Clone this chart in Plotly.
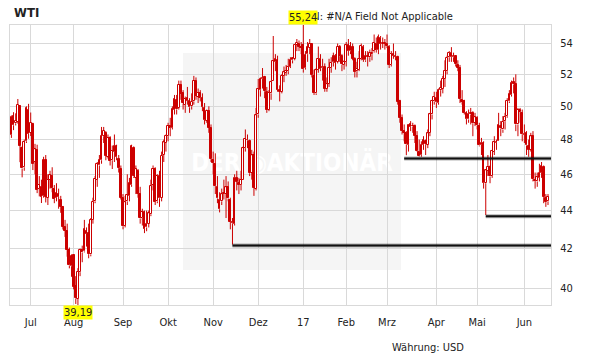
import math
import pandas as pd
import plotly.graph_objects as go

# ---------------- data ----------------
start_date = "2016-06-20"
end_date = "2017-06-16"
holidays = ["2016-07-04", "2016-09-05", "2016-11-24", "2016-12-26", "2017-01-02",
            "2017-01-16", "2017-02-20", "2017-04-14", "2017-05-29"]

month_labels = ["Jul", "Aug", "Sep", "Okt", "Nov", "Dez", "17", "Feb", "Mrz", "Apr", "Mai", "Jun"]
y_ticks = [40, 42, 44, 46, 48, 50, 52, 54]

opens = [
    48.28, 49.39, 48.97, 49.05, 50.00, 47.50, 46.40, 47.90, 49.80,
    48.40, 48.90, 46.70, 47.40, 45.20, 45.30, 44.80, 46.80, 44.70, 45.70, 45.90, 45.20, 44.70, 44.90, 44.60, 44.20, 43.10, 42.90, 41.90, 41.10,
    41.65, 40.10, 39.50, 40.80, 41.90, 41.85, 42.90, 42.80, 41.70, 43.50, 44.50, 45.70, 46.50, 46.80, 48.20, 48.40, 47.00, 48.10, 46.80, 47.30, 47.60, 46.90, 46.30,
    44.70, 43.20, 44.50, 44.80, 45.40, 47.50, 45.80, 46.20, 44.90, 43.60, 43.90, 43.10, 43.30, 43.80, 45.40, 46.30, 44.50, 45.90, 44.70, 47.10, 47.80,
    48.20, 48.80, 48.70, 49.80, 50.40, 49.90, 51.30, 50.80, 50.10, 50.50, 50.30, 50.00, 50.30, 51.60, 50.60, 50.80, 50.50, 49.90, 49.10, 49.70, 48.70,
    46.80, 46.60, 45.30, 44.60, 44.50, 44.90, 44.90, 45.30, 44.60, 43.40, 43.30, 45.80, 45.50, 45.40, 45.70, 47.50, 48.00, 47.90, 46.10, 47.10, 45.20,
    49.50, 51.00, 51.70, 51.80, 50.90, 49.80, 50.80, 51.60, 52.80, 52.90, 51.00, 50.90, 51.90, 52.10, 52.20, 52.50, 52.90, 53.00, 53.90, 54.00, 53.80,
    53.90, 52.40, 53.30, 53.70, 54.00, 51.90, 50.80, 52.30, 53.00, 52.40, 52.50, 51.10, 51.40, 52.40, 52.80, 53.20, 52.80, 53.80, 53.20, 52.60,
    52.80, 53.90, 53.50, 53.80, 53.00, 52.20, 52.30, 53.00, 53.80, 52.90, 53.20, 53.10, 53.30, 53.50, 54.00, 53.60, 54.40, 54.00, 54.00,
    54.00, 53.80, 52.60, 53.30, 53.20, 53.10, 50.30, 49.30, 48.50, 48.40, 47.70, 48.90, 48.80, 48.80, 48.20, 47.30, 47.10, 47.70, 47.90, 47.70, 48.40, 49.50, 50.30,
    50.50, 50.20, 51.00, 51.10, 51.70, 52.20, 53.10, 53.40, 53.10, 53.20, 52.60, 52.40, 50.40, 50.30, 49.60, 49.20, 49.50, 49.60, 49.00,
    49.30, 48.80, 47.70, 47.80, 45.50, 46.20, 46.40, 45.90, 47.30, 47.80, 47.90, 48.80, 48.60, 49.10, 49.40, 50.30, 50.70, 51.50, 51.40, 48.90, 49.80, 49.60,
    48.30, 48.40, 47.60, 47.40, 48.20, 45.70, 45.60, 45.80, 46.10, 46.40, 44.70, 44.50,
]

highs = [
    49.44, 49.64, 49.57, 50.45, 50.05, 47.60, 48.00, 50.00, 50.15,
    49.62, 49.00, 47.75, 47.70, 45.90, 45.70, 47.00, 47.10, 46.00, 46.20, 46.40, 45.40, 45.50, 45.20, 44.80, 44.25, 43.50, 43.30, 42.05, 41.70,
    41.70, 40.60, 41.00, 42.00, 42.15, 43.50, 43.10, 43.30, 43.60, 44.70, 45.90, 46.70, 47.10, 48.75, 48.75, 48.50, 48.30, 48.20, 47.65, 48.30, 47.70, 47.10, 46.50,
    44.90, 44.80, 46.00, 45.80, 47.70, 47.60, 46.50, 46.30, 45.30, 44.10, 44.00, 44.00, 44.00, 45.70, 46.50, 46.40, 46.00, 46.20, 47.30, 48.00, 48.30,
    49.00, 49.30, 50.00, 50.70, 50.70, 51.60, 51.60, 51.00, 50.60, 51.20, 50.50, 50.80, 51.90, 51.80, 51.10, 51.00, 50.80, 50.20, 49.80, 50.00, 48.90,
    47.30, 47.20, 45.90, 45.00, 45.20, 45.70, 45.90, 45.60, 44.70, 43.60, 46.00, 46.20, 45.80, 46.20, 47.60, 48.60, 48.30, 48.00, 47.40, 47.30, 49.90,
    51.70, 51.80, 52.40, 51.90, 51.20, 51.00, 51.60, 54.50, 53.30, 53.20, 51.30, 52.00, 52.50, 52.60, 53.00, 53.10, 53.10, 53.90, 54.30, 54.20, 54.10,
    55.24, 53.50, 54.10, 54.30, 54.00, 52.30, 52.40, 53.80, 53.30, 53.00, 52.70, 51.80, 53.00, 53.10, 53.40, 53.30, 54.00, 53.90, 53.30, 52.90,
    54.10, 54.30, 54.10, 54.00, 53.10, 52.80, 53.50, 54.00, 53.90, 53.50, 53.50, 53.60, 53.70, 54.60, 54.40, 54.60, 54.50, 54.40, 54.30,
    54.60, 53.90, 53.50, 54.00, 53.50, 53.20, 50.40, 49.50, 48.90, 48.50, 48.90, 49.10, 49.00, 48.90, 48.50, 48.00, 47.90, 48.20, 48.00, 48.60, 49.60, 50.40, 50.90,
    50.90, 51.10, 51.60, 51.90, 52.90, 53.20, 53.50, 53.76, 53.40, 53.20, 52.90, 52.60, 51.00, 50.40, 49.70, 49.80, 49.90, 49.70, 49.60,
    49.40, 49.00, 48.10, 47.90, 46.30, 47.10, 46.50, 47.40, 48.20, 48.00, 49.60, 49.10, 49.40, 49.60, 50.50, 51.00, 51.60, 51.80, 52.00, 49.90, 49.90, 49.80,
    48.90, 48.50, 48.00, 48.40, 48.50, 46.10, 46.10, 46.60, 46.70, 46.50, 44.90, 44.90,
]

lows = [
    48.10, 48.56, 48.84, 48.95, 46.69, 45.83, 46.20, 47.80, 48.05,
    48.21, 46.24, 46.00, 44.95, 44.77, 44.41, 44.70, 44.44, 44.30, 45.20, 45.00, 44.40, 44.50, 44.10, 43.88, 42.99, 42.60, 41.58, 40.99, 40.57,
    39.95, 39.24, 39.19, 40.60, 41.30, 41.80, 42.10, 41.50, 41.60, 43.30, 44.40, 45.30, 45.80, 46.60, 47.80, 46.80, 46.90, 46.50, 46.30, 46.70, 46.80, 46.10, 44.60,
    43.00, 43.10, 44.30, 44.50, 45.30, 45.80, 44.90, 44.70, 43.30, 43.20, 42.80, 42.90, 43.10, 43.70, 45.10, 44.30, 44.40, 44.20, 44.50, 46.70, 47.30,
    47.90, 48.20, 48.60, 49.50, 49.50, 49.80, 50.40, 49.80, 49.60, 50.10, 49.60, 49.80, 50.10, 50.40, 50.20, 50.30, 49.70, 48.90, 49.00, 48.40, 46.70,
    46.00, 44.90, 44.40, 43.90, 44.30, 44.60, 43.60, 44.50, 43.00, 42.20, 43.20, 45.10, 44.90, 45.10, 45.70, 47.30, 47.50, 45.90, 45.70, 44.80, 45.10,
    49.30, 50.60, 51.10, 50.50, 49.60, 49.70, 50.40, 51.60, 52.20, 50.90, 50.30, 50.80, 51.50, 51.90, 52.00, 52.40, 52.70, 52.90, 53.50, 53.50, 53.30,
    52.11, 52.30, 52.80, 53.30, 51.80, 50.70, 50.70, 52.10, 52.20, 51.60, 50.90, 50.90, 51.20, 52.10, 52.50, 52.30, 52.70, 52.80, 52.20, 52.30,
    52.50, 53.20, 53.30, 52.90, 51.80, 51.80, 52.20, 52.90, 52.80, 52.80, 52.50, 52.80, 52.90, 53.40, 53.40, 53.30, 53.60, 53.70, 53.60,
    53.70, 52.40, 52.50, 53.00, 52.90, 50.10, 49.00, 48.30, 47.90, 47.09, 47.30, 48.50, 48.40, 47.80, 47.30, 47.01, 47.00, 47.40, 47.10, 47.50, 48.20, 49.20, 50.10,
    49.90, 50.10, 50.60, 50.80, 51.20, 52.00, 52.80, 52.80, 52.80, 52.50, 52.20, 50.20, 50.10, 49.50, 48.90, 49.00, 48.90, 48.20, 48.80,
    48.60, 47.60, 47.10, 45.20, 43.76, 45.90, 45.50, 45.80, 47.10, 47.40, 47.90, 48.20, 48.40, 48.60, 49.30, 50.20, 50.60, 50.80, 48.50, 48.20, 49.00, 47.90,
    47.80, 47.10, 47.00, 47.30, 45.60, 45.20, 45.30, 45.60, 45.80, 44.40, 44.20, 44.30,
]

closes = [
    49.37, 48.85, 49.13, 50.11, 47.64, 46.33, 47.85, 49.88, 48.33,
    48.99, 46.60, 47.43, 45.14, 45.41, 44.76, 46.80, 44.75, 45.68, 45.95, 45.24, 44.65, 44.94, 44.75, 44.19, 43.13, 42.92, 41.92, 41.14, 41.60,
    40.06, 39.51, 40.83, 41.93, 41.80, 43.02, 42.77, 41.71, 43.49, 44.49, 45.74, 46.58, 46.79, 48.22, 48.52, 47.05, 48.10, 46.77, 47.33, 47.64, 46.98, 46.35, 44.70,
    43.16, 44.44, 44.83, 45.50, 47.62, 45.88, 46.29, 44.90, 43.58, 43.91, 43.03, 43.30, 43.85, 45.34, 46.32, 44.48, 45.93, 44.67, 47.05, 47.83, 48.24,
    48.81, 48.69, 49.83, 50.44, 49.81, 51.35, 50.79, 50.18, 50.44, 50.35, 49.94, 50.29, 51.60, 50.63, 50.85, 50.52, 49.96, 49.18, 49.72, 48.70, 46.86,
    46.67, 45.34, 44.66, 44.07, 44.89, 44.98, 45.27, 44.66, 43.41, 43.32, 45.81, 45.57, 45.42, 45.69, 47.49, 48.03, 47.96, 46.06, 47.08, 45.23, 49.44,
    51.06, 51.68, 51.79, 50.93, 49.77, 50.84, 51.50, 52.83, 52.98, 51.04, 50.90, 51.90, 52.12, 52.23, 52.49, 52.95, 53.02, 53.90, 54.06, 53.77, 53.72,
    52.33, 53.26, 53.76, 53.99, 51.96, 50.82, 52.25, 53.01, 52.37, 52.48, 51.08, 51.37, 52.42, 52.75, 53.18, 52.75, 53.78, 53.17, 52.63, 52.81,
    53.88, 53.54, 53.83, 53.01, 52.17, 52.34, 53.00, 53.86, 52.93, 53.20, 53.11, 53.36, 53.40, 54.06, 53.59, 54.45, 53.99, 54.05, 54.01,
    53.83, 52.61, 53.33, 53.20, 53.14, 50.28, 49.28, 48.49, 48.40, 47.72, 48.86, 48.75, 48.78, 48.22, 47.34, 47.04, 47.70, 47.97, 47.73, 48.37, 49.51, 50.35, 50.60,
    50.24, 51.03, 51.15, 51.70, 52.24, 53.08, 53.40, 53.11, 53.18, 52.65, 52.41, 50.44, 50.27, 49.62, 49.23, 49.56, 49.62, 48.97, 49.33,
    48.84, 47.66, 47.82, 45.52, 46.22, 46.43, 45.88, 47.33, 47.83, 47.84, 48.85, 48.66, 49.07, 49.35, 50.33, 50.73, 51.47, 51.36, 48.90, 49.80, 49.66, 48.32,
    48.36, 47.66, 47.40, 48.19, 45.72, 45.64, 45.83, 46.08, 46.46, 44.73, 44.46, 44.74,
]

# horizontal support lines: starting trading-day index and level
support_start = [103, 183, 221]
support_level = [42.15, 46.9, 43.7]

high_label = "55,24"
low_label = "39,19"

# ---------------- build ----------------
dates = [d for d in pd.bdate_range(start_date, end_date) if d.strftime("%Y-%m-%d") not in holidays]
n = len(dates)
assert n == len(opens) == len(highs) == len(lows) == len(closes), (n, len(opens), len(highs), len(lows), len(closes))
idx = list(range(n))

month_pos = []
prev = None
for i, d in enumerate(dates):
    key = (d.year, d.month)
    if prev is not None and key != prev:
        month_pos.append(i)
    prev = key

i_hi = max(idx, key=lambda i: highs[i])
i_lo = min(idx, key=lambda i: lows[i])

RED = "#cc0000"
FONT = "DejaVu Sans Condensed, DejaVu Sans, sans-serif"
GRID = "#d9d9d9"
X_MIN, X_MAX = -0.65, n + 0.4
Y_MIN, Y_MAX = math.log10(min(lows)), math.log10(max(highs))

# candle bodies and wicks built from the OHLC lists
body_base = [min(o, c) for o, c in zip(opens, closes)]
body_size = [max(abs(c - o), 0.02) for o, c in zip(opens, closes)]
body_fill = ["white" if c > o else RED for o, c in zip(opens, closes)]
wx, wy = [], []
for i in idx:
    top = max(opens[i], closes[i])
    bot = min(opens[i], closes[i])
    wx += [i, i, None, i, i, None]
    wy += [highs[i], top, None, bot, lows[i], None]

fig = go.Figure()
fig.add_trace(go.Bar(
    x=idx, y=body_size, base=body_base, width=0.8,
    marker=dict(color=body_fill, line=dict(color=RED, width=1)),
    hoverinfo="skip", showlegend=False,
))
fig.add_trace(go.Scatter(
    x=wx, y=wy, mode="lines", line=dict(color=RED, width=1),
    hoverinfo="skip", showlegend=False, connectgaps=False,
))

shapes = [dict(type="rect", xref="paper", yref="paper", x0=0.3198, x1=0.7227, y0=0.125, y1=0.9,
               fillcolor="#f5f5f5", line=dict(width=0), layer="below",
               label=dict(text="DER ◉AKTIONÄR", font=dict(family=FONT, size=24, color="white", weight="bold"),
                          textposition="middle center"))]
for s, lv in zip(support_start, support_level):
    shapes.append(dict(type="line", xref="x", yref="y", x0=s, x1=X_MAX, y0=lv, y1=lv,
                       line=dict(color="rgba(0,0,0,0.3)", width=4), layer="above"))
    shapes.append(dict(type="line", xref="x", yref="y", x0=s, x1=X_MAX, y0=lv, y1=lv,
                       line=dict(color="#111111", width=2), layer="above"))

annotations = [
    dict(text="<b>WTI</b>", xref="paper", yref="paper", x=0.004, y=1.046, xanchor="left", yanchor="middle",
         showarrow=False, font=dict(family=FONT, size=13, color="#222")),
    dict(text="WKN: #N/A Field Not Applicable", xref="paper", yref="paper", x=0.525, y=1.032,
         xanchor="left", yanchor="middle", showarrow=False, font=dict(family=FONT, size=11, color="#222")),
    dict(text=high_label, x=i_hi, y=math.log10(highs[i_hi]), xref="x", yref="y", xanchor="center", yanchor="bottom",
         showarrow=False, bgcolor="#ffff00", borderpad=0, font=dict(family=FONT, size=11, color="#222")),
    dict(text=low_label, x=i_lo, y=math.log10(lows[i_lo]), xref="x", yref="y", xanchor="center", yanchor="top",
         showarrow=False, bgcolor="#ffff00", borderpad=0, font=dict(family=FONT, size=11, color="#222")),
    dict(text="Währung: USD", xref="paper", yref="paper", x=0.7024, y=-0.15, xanchor="left", yanchor="middle",
         showarrow=False, font=dict(family=FONT, size=11, color="#222")),
]

fig.update_layout(
    width=611, height=364,
    margin=dict(l=10, r=60, t=25, b=59),
    paper_bgcolor="white", plot_bgcolor="rgba(0,0,0,0)",
    font=dict(family=FONT, size=11, color="#222"),
    shapes=shapes, annotations=annotations, bargap=0,
    xaxis=dict(range=[X_MIN, X_MAX], tickvals=month_pos, ticktext=month_labels, showgrid=True,
               gridcolor=GRID, gridwidth=1, showline=True, mirror=True, linecolor=GRID, zeroline=False,
               ticks="", ticklabelstandoff=7, fixedrange=True),
    yaxis=dict(type="log", range=[Y_MIN, Y_MAX], side="right", tickvals=y_ticks,
               ticktext=[str(v) for v in y_ticks], showgrid=True, gridcolor=GRID, gridwidth=1,
               showline=True, mirror=True, linecolor=GRID, zeroline=False, ticks="",
               ticklabelstandoff=6, fixedrange=True),
)

fig.write_html("out.html", config={"displayModeBar": False},
               post_script="document.body.style.margin='0px';document.body.style.padding='0px';")
